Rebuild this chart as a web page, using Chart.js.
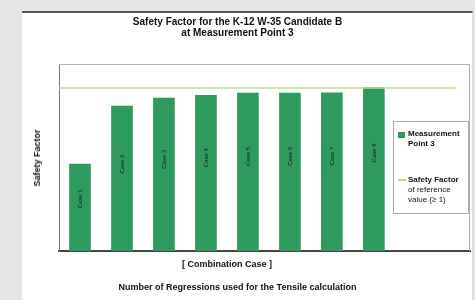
<!DOCTYPE html>
<html>
<head>
<meta charset="utf-8">
<script src="https://cdn.jsdelivr.net/npm/chart.js@4/dist/chart.umd.min.js"></script>
<style>
  html, body { margin: 0; padding: 0; }
  body { width: 475px; height: 300px; background: #e4e5e6; position: relative; overflow: hidden;
         font-family: "Liberation Sans", Arial, sans-serif; color: #111; }
  #panel { position: absolute; left: 22px; top: 11px; width: 450px; height: 289px; background: #fff;
           border-top: 2px solid #555; border-right: 1px solid #ddd; }
  #wrap { position: absolute; left: 0; top: 0; width: 475px; height: 300px; }
  .txt { position: absolute; font-weight: bold; white-space: nowrap; text-align: center; }
  #title { left: 0; width: 475px; top: 16px; font-size: 10px; line-height: 11px; }
  #xtitle { left: 59px; width: 336px; top: 259px; font-size: 9px; }
  #note { left: 0; width: 475px; top: 282px; font-size: 9px; }
  #ytitle { left: 37px; top: 158px; font-size: 9px; transform: translate(-50%, -50%) rotate(-90deg); }
  #legend { position: absolute; left: 393px; top: 121px; width: 74px; height: 91px; border: 1px solid #aaa;
            font-size: 8px; line-height: 10px; }
  .item { position: absolute; left: 14px; }
  .sw { position: absolute; left: 4px; }
</style>
</head>
<body>
<div id="panel"></div>
<div id="wrap"><canvas id="myChart" width="475" height="300"></canvas></div>
<div class="txt" id="title">Safety Factor for the K-12 W-35 Candidate B<br>at Measurement Point 3</div>
<div class="txt" id="ytitle">Safety Factor</div>
<div class="txt" id="xtitle">[ Combination Case ]</div>
<div class="txt" id="note">Number of Regressions used for the Tensile calculation</div>
<div id="legend">
  <div class="sw" style="top:10px;width:7px;height:6px;background:#2f9a5e;"></div>
  <div class="item" style="top:7px;font-weight:bold;">Measurement<br>Point 3</div>
  <div class="sw" style="top:57px;width:8px;height:2px;background:#b8e08f;"></div>
  <div class="item" style="top:53px;"><b>Safety Factor</b><br>of reference<br>value (&ge; 1)</div>
</div>
<script>
var caseLabels = ['Case 1', 'Case 2', 'Case 3', 'Case 4', 'Case 5', 'Case 6', 'Case 7', 'Case 8'];
var safetyFactor = [46.5, 77.5, 81.8, 83.2, 84.4, 84.4, 84.6, 87.4];
var referenceValue = 87.2;
var referenceSpan = [0.5, 9.95];

var barColor = '#2f9a5e';
var lineColor = '#b8e08f';

// labels written upright inside each bar
var barLabels = {
    id: 'barLabels',
    afterDatasetsDraw: function(chart) {
        var ctx = chart.ctx;
        var meta = chart.getDatasetMeta(0);
        ctx.save();
        ctx.fillStyle = '#1a1a1a';
        ctx.font = '6px "Liberation Sans", Arial, sans-serif';
        ctx.textAlign = 'center';
        ctx.textBaseline = 'middle';
        meta.data.forEach(function(bar, i) {
            var mid = bar.y + (bar.base - bar.y) * 0.4;
            ctx.save();
            ctx.translate(bar.x, mid);
            ctx.rotate(-Math.PI / 2);
            ctx.fillText(caseLabels[i], 0, 0);
            ctx.restore();
        });
        ctx.restore();
    }
};

// thin frame round the plot area
var plotFrame = {
    id: 'plotFrame',
    beforeDatasetsDraw: function(chart) {
        var a = chart.chartArea;
        var ctx = chart.ctx;
        ctx.save();
        ctx.strokeStyle = '#b0b0b0';
        ctx.lineWidth = 1;
        ctx.beginPath();
        ctx.moveTo(a.left, a.top + 0.5);
        ctx.lineTo(a.right - 0.5, a.top + 0.5);
        ctx.lineTo(a.right - 0.5, a.bottom);
        ctx.stroke();
        ctx.restore();
    }
};

var ctx = document.getElementById('myChart').getContext('2d');
var myChart = new Chart(ctx, {
    type: 'bar',
    data: {
        datasets: [
            {
                label: 'Measurement Point 3',
                data: safetyFactor.map(function(v, i) { return { x: i + 1, y: v }; }),
                backgroundColor: barColor,
                borderWidth: 0,
                barThickness: 21,
                order: 2
            },
            {
                type: 'line',
                label: 'Safety Factor of reference value',
                data: referenceSpan.map(function(x) { return { x: x, y: referenceValue }; }),
                borderColor: lineColor,
                borderWidth: 1.5,
                pointRadius: 0,
                order: 1
            }
        ]
    },
    plugins: [barLabels, plotFrame],
    options: {
        responsive: false,
        animation: false,
        layout: { padding: { left: 59, right: 5, top: 64, bottom: 49 } },
        plugins: {
            legend: { display: false },
            tooltip: { enabled: false }
        },
        scales: {
            x: {
                type: 'linear',
                offset: false,
                min: 0.5,
                max: 10.29,
                ticks: { display: false },
                grid: { display: false, drawTicks: false, offset: false },
                border: { display: true, color: '#444', width: 2 }
            },
            y: {
                min: 0,
                max: 100,
                ticks: { display: false },
                grid: { display: false, drawTicks: false },
                border: { display: true, color: '#777', width: 1 }
            }
        }
    }
});
</script>
</body>
</html>
